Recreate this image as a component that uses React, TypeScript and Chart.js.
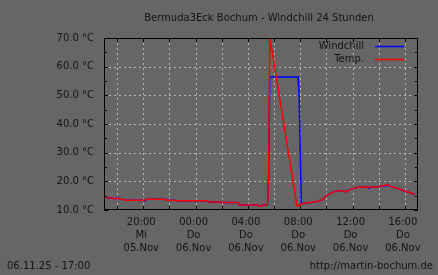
import React, { useEffect, useRef } from 'react';
import { Chart, registerables } from 'chart.js';

Chart.register(...registerables);

const TITLE = 'Bermuda3Eck Bochum - Windchill 24 Stunden';
const FOOT_LEFT = '06.11.25 - 17:00';
const FOOT_RIGHT = 'http://martin-bochum.de';
const START_HOUR = 17;

const tickTimes = ['20:00', '00:00', '04:00', '08:00', '12:00', '16:00'];
const tickDays = ['Mi', 'Do', 'Do', 'Do', 'Do', 'Do'];
const tickDates = ['05.Nov', '06.Nov', '06.Nov', '06.Nov', '06.Nov', '06.Nov'];
const gridTimes = ['18:00', '20:00', '22:00', '00:00', '02:00', '04:00', '06:00', '08:00', '10:00', '12:00', '14:00', '16:00'];

const tempTimes = ['17:00', '17:10', '17:15', '17:35', '17:40', '18:10', '18:15', '18:30', '18:35', '19:50', '20:10', '20:15', '21:40', '21:45', '22:20', '22:30', '00:55', '01:00', '01:55', '02:00', '03:15', '03:20', '04:45', '04:50', '05:05', '05:10', '05:30', '05:35', '05:40', '07:45', '07:50', '07:55', '08:00', '08:15', '08:45', '09:15', '09:45', '10:00', '10:20', '10:40', '11:05', '11:30', '11:50', '12:30', '13:15', '13:55', '14:15', '14:40', '15:05', '15:25', '15:55', '16:20', '16:45'];
const tempValues = [14.7, 14.6, 14.3, 14.2, 14.0, 14.0, 13.75, 13.7, 13.4, 13.4, 13.5, 13.75, 13.75, 13.4, 13.4, 13.2, 13.2, 12.8, 12.8, 12.6, 12.6, 11.75, 11.75, 11.4, 11.4, 11.75, 11.75, 22.6, 70.5, 11.5, 11.4, 11.6, 12.0, 12.35, 12.6, 13.0, 13.75, 15.0, 15.9, 16.5, 16.8, 16.4, 17.2, 18.0, 17.9, 18.1, 18.4, 18.8, 17.9, 17.6, 16.7, 16.1, 15.5];

const chillTimes = ['17:00', '17:10', '17:15', '17:35', '17:40', '18:10', '18:15', '18:30', '18:35', '19:35', '19:40', '19:45', '20:05', '20:10', '20:15', '21:40', '21:45', '22:20', '22:30', '00:55', '01:00', '01:55', '02:00', '03:15', '03:20', '04:45', '04:50', '05:05', '05:10', '05:30', '05:35', '05:40', '07:50', '07:55', '08:00', '08:05', '08:15', '08:45', '09:15', '09:45', '10:00', '10:20', '10:40', '11:05', '11:30', '11:50', '12:30', '13:10', '13:15', '13:20', '13:55', '14:15', '14:35', '14:40', '15:05', '15:25', '15:55', '16:20', '16:45'];
const chillValues = [14.7, 14.6, 14.3, 14.2, 14.0, 14.0, 13.75, 13.7, 13.4, 13.4, 13.2, 13.4, 13.4, 13.2, 13.75, 13.75, 13.4, 13.4, 13.2, 13.2, 12.8, 12.8, 12.6, 12.6, 11.75, 11.75, 11.4, 11.4, 11.75, 11.75, 20.5, 56.4, 56.4, 50.0, 30.0, 12.1, 12.35, 12.6, 13.0, 13.75, 15.0, 15.9, 16.5, 16.8, 16.4, 17.2, 18.0, 17.9, 17.6, 17.9, 18.1, 18.4, 18.4, 18.8, 17.9, 17.6, 16.7, 16.1, 15.5];

const Y_MIN = 10;
const Y_MAX = 70;
const Y_STEP = 10;
const Y_MINOR = 5;

const FONT = '"DejaVu Sans", sans-serif';
const TEXT = '#141414';
const BG = '#666666';
const GRID = '#b8b8b8';

const toHours = (t: string) => {
  const [h, m] = t.split(':').map(Number);
  return (h + m / 60 - START_HOUR + 24) % 24;
};

const series = (times: string[], values: number[]) =>
  times.map((t, i) => ({ x: toHours(t), y: values[i] }));

const decor = {
  id: 'decor',
  beforeDatasetsDraw(chart: any) {
    const { ctx, chartArea: a, scales } = chart;
    const xs = scales.x;
    const ys = scales.y;
    ctx.save();
    ctx.strokeStyle = GRID;
    ctx.lineWidth = 1;
    ctx.setLineDash([2, 3]);
    gridTimes.forEach((t) => {
      const px = Math.round(xs.getPixelForValue(toHours(t))) + 0.5;
      ctx.beginPath();
      ctx.moveTo(px, a.top);
      ctx.lineTo(px, a.bottom);
      ctx.stroke();
    });
    for (let v = Y_MIN + Y_STEP; v < Y_MAX; v += Y_STEP) {
      const py = Math.round(ys.getPixelForValue(v)) + 0.5;
      ctx.beginPath();
      ctx.moveTo(a.left, py);
      ctx.lineTo(a.right, py);
      ctx.stroke();
    }
    ctx.restore();
  },
  afterDatasetsDraw(chart: any) {
    const { ctx, chartArea: a, scales } = chart;
    const xs = scales.x;
    const ys = scales.y;
    ctx.save();
    ctx.strokeStyle = '#000';
    ctx.lineWidth = 1;
    ctx.setLineDash([]);
    ctx.strokeRect(a.left + 0.5, a.top + 0.5, a.right - a.left - 1, a.bottom - a.top - 1);
    ctx.beginPath();
    gridTimes.forEach((t) => {
      const px = Math.round(xs.getPixelForValue(toHours(t))) + 0.5;
      ctx.moveTo(px, a.bottom);
      ctx.lineTo(px, a.bottom - 4);
      ctx.moveTo(px, a.top);
      ctx.lineTo(px, a.top + 4);
    });
    for (let v = Y_MIN; v <= Y_MAX; v += Y_MINOR) {
      const py = Math.round(ys.getPixelForValue(v)) + 0.5;
      const len = (v - Y_MIN) % Y_STEP === 0 ? 4 : 3;
      ctx.moveTo(a.left, py);
      ctx.lineTo(a.left + len, py);
      ctx.moveTo(a.right, py);
      ctx.lineTo(a.right - len, py);
    }
    ctx.stroke();

    // legend
    const ds = chart.data.datasets;
    ctx.font = `10px ${FONT}`;
    ctx.fillStyle = TEXT;
    ctx.textAlign = 'right';
    ctx.textBaseline = 'middle';
    ds.forEach((d: any, i: number) => {
      const ly = 46 + i * 13;
      ctx.fillText(d.label, 364, ly);
      ctx.strokeStyle = d.borderColor;
      ctx.lineWidth = 1.5;
      ctx.beginPath();
      ctx.moveTo(375, ly + 0.5);
      ctx.lineTo(404, ly + 0.5);
      ctx.stroke();
    });
    ctx.restore();
  },
  afterDraw(chart: any) {
    const { ctx, chartArea: a } = chart;
    ctx.save();
    ctx.fillStyle = TEXT;
    ctx.font = `10px ${FONT}`;
    ctx.textBaseline = 'middle';
    ctx.textAlign = 'center';
    ctx.fillText(TITLE, (a.left + a.right) / 2 - 2, 18);
    ctx.textAlign = 'left';
    ctx.fillText(FOOT_LEFT, 7, 266);
    ctx.textAlign = 'right';
    ctx.fillText(FOOT_RIGHT, 433, 266);
    ctx.restore();
  },
};

export default function App() {
  const ref = useRef<HTMLCanvasElement | null>(null);

  useEffect(() => {
    if (!ref.current) return;
    const tickHours = tickTimes.map(toHours);
    const chart = new Chart(ref.current, {
      type: 'line',
      data: {
        datasets: [
          {
            label: 'Windchill',
            data: series(chillTimes, chillValues),
            borderColor: '#0000ff',
            borderWidth: 1.5,
            pointRadius: 0,
            tension: 0,
            order: 1,
          },
          {
            label: 'Temp.',
            data: series(tempTimes, tempValues),
            borderColor: '#ff0000',
            borderWidth: 1.5,
            pointRadius: 0,
            tension: 0,
            order: 0,
          },
        ],
      },
      options: {
        animation: false,
        responsive: false,
        devicePixelRatio: 1,
        layout: { padding: { left: 0, right: 20, top: 38, bottom: 0 } },
        plugins: {
          legend: { display: false },
          title: { display: false },
          tooltip: { enabled: false },
        },
        font: { family: FONT, size: 10 },
        color: TEXT,
        scales: {
          x: {
            type: 'linear',
            min: 0,
            max: 24,
            grid: { display: false, drawTicks: false },
            border: { display: false },
            afterFit: (s: any) => {
              s.height = 65;
            },
            afterBuildTicks: (s: any) => {
              s.ticks = tickHours.map((v) => ({ value: v }));
            },
            ticks: {
              autoSkip: false,
              maxRotation: 0,
              padding: 6,
              labelOffset: -2,
              color: TEXT,
              font: { family: FONT, size: 10, lineHeight: 1.3 },
              callback: (v: any) => {
                const i = tickHours.indexOf(Number(v));
                return i < 0 ? '' : [tickTimes[i], tickDays[i], tickDates[i]];
              },
            },
          },
          y: {
            type: 'linear',
            min: Y_MIN,
            max: Y_MAX,
            grid: { display: false, drawTicks: false },
            border: { display: false },
            afterFit: (s: any) => {
              s.width = 104;
            },
            ticks: {
              stepSize: Y_STEP,
              padding: 10,
              color: TEXT,
              font: { family: FONT, size: 10 },
              callback: (v: any) => `${Number(v).toFixed(1)} °C`,
            },
          },
        },
      } as any,
      plugins: [decor],
    });
    return () => chart.destroy();
  }, []);

  return (
    <div style={{ position: 'fixed', left: 0, top: 0, width: 438, height: 275, background: BG }}>
      <canvas ref={ref} width={438} height={275} style={{ width: 438, height: 275, display: 'block' }} />
    </div>
  );
}
